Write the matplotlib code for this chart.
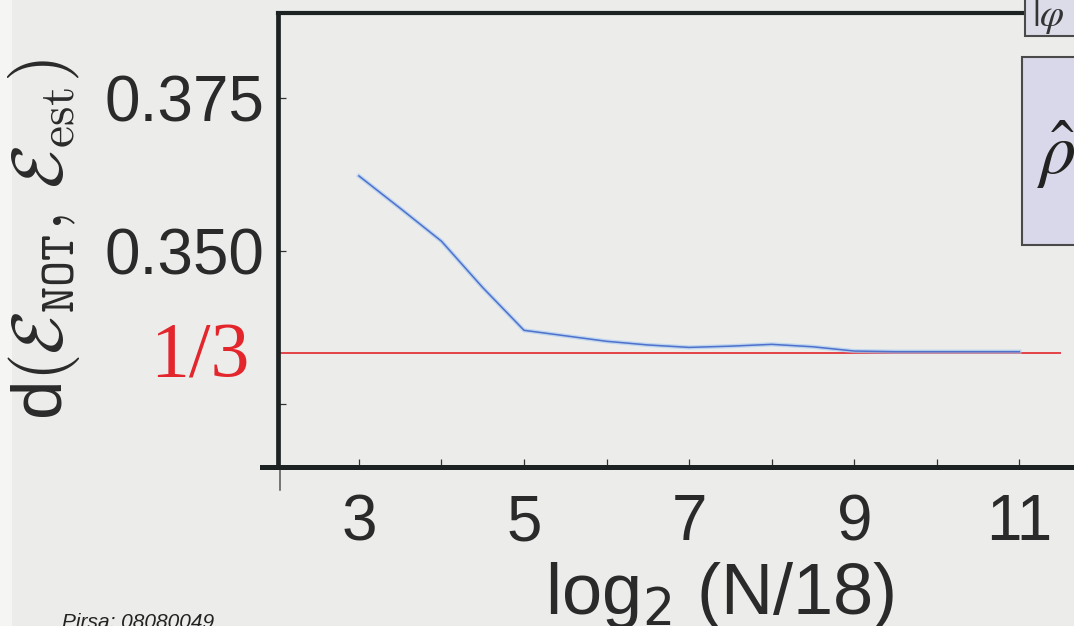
"""Distance between estimated and ideal NOT channel vs. log2(N/18)."""

import matplotlib

matplotlib.use("Agg")
import matplotlib.pyplot as plt
from matplotlib.lines import Line2D
from matplotlib.patches import Rectangle
from matplotlib.ticker import FixedFormatter, FixedLocator

# ----- data -----
log2_n = [3, 3.5, 4, 4.5, 5, 5.5, 6, 6.5, 7, 7.5, 8, 8.5, 9, 9.5, 10, 10.5, 11]
distance = [0.3623, 0.3570, 0.3516, 0.3440, 0.3370, 0.3361, 0.3352, 0.3346,
            0.3342, 0.3344, 0.3347, 0.3343, 0.3336, 0.3335, 0.3335, 0.3335,
            0.3335]
bound_value = 1 / 3
bound_span = [2.0, 11.5]

x_major = [3, 5, 7, 9, 11]
x_minor = [4, 6, 8, 10]
y_ticks = [0.325, 0.350, 0.375]
y_tick_labels = ["", "0.350", "0.375"]

BG = "#ecedea"
INK = "#1c2121"
W, H = 1074, 626


def fx(px):
    return px / W


def fy(py):
    return 1 - py / H


plt.rcParams["font.family"] = ["Liberation Sans", "DejaVu Sans"]

fig = plt.figure(figsize=(W / 100, H / 100), dpi=100, facecolor=BG)
fig.add_artist(Rectangle((0, 0), fx(12), 1, transform=fig.transFigure,
                         facecolor="#f5f6f4", edgecolor="none", zorder=-1))

ax = fig.add_axes([fx(278), fy(467), fx(824), fy(13) - fy(467)])
ax.set_facecolor(BG)
ax.set_xlim(2.02, 12.0)
ax.set_ylim(0.3146, 0.3890)

ax.plot(bound_span, [bound_value, bound_value], color="#e3262c", lw=1.2,
        zorder=2, solid_capstyle="butt")
ax.plot(log2_n, distance, color="#a9cbf2", lw=3.0, alpha=0.7, zorder=3)
ax.plot(log2_n, distance, color="#2a4fc0", lw=1.1, alpha=0.75, zorder=4)

for side in ("left", "top", "bottom"):
    ax.spines[side].set_color(INK)
ax.spines["left"].set_linewidth(3.4)
ax.spines["top"].set_linewidth(3.0)
ax.spines["bottom"].set_linewidth(3.6)
ax.spines["right"].set_visible(False)

ax.xaxis.set_major_locator(FixedLocator(x_major))
ax.xaxis.set_minor_locator(FixedLocator(x_minor))
ax.yaxis.set_major_locator(FixedLocator(y_ticks))
ax.yaxis.set_major_formatter(FixedFormatter(y_tick_labels))
ax.tick_params(axis="both", which="both", direction="in", length=6,
               width=0.9, color="#333333", labelcolor="#2a2a2a",
               labelsize=46)
ax.tick_params(axis="x", pad=19)
ax.tick_params(axis="y", pad=10)

# the 1/3 reference label
ax.text(-0.034, bound_value - 0.0009, "1/3",
        transform=ax.get_yaxis_transform(), ha="right", va="center",
        color="#e3262c", fontsize=56, family="Liberation Serif")

# axes run a little past the corner
ax.add_line(Line2D([-0.02, 0], [0, 0], transform=ax.transAxes, color=INK,
                   lw=3.6, clip_on=False))
ax.add_line(Line2D([0.003, 0.003], [0, -0.05], transform=ax.transAxes,
                   color="#555555", lw=1.1, clip_on=False))

ax.set_xlabel("log$_2$ (N/18)", fontsize=52, color="#2a2a2a")
ax.xaxis.set_label_coords((720 - 278) / 824, -0.205)

fig.text(fx(44), fy(240),
         r"d$(\mathcal{E}_{\mathtt{NOT}},\,\mathcal{E}_{\mathrm{est}})$",
         rotation=90, ha="center", va="center", fontsize=51,
         color="#2a2a2a", math_fontfamily="cm")

# slide boxes cut off on the right
fig.add_artist(Rectangle((fx(1025), fy(36)), fx(80), fy(-10) - fy(36),
                         transform=fig.transFigure, facecolor="#dcdce8",
                         edgecolor="#4a4a4a", lw=1.5, zorder=5))
fig.text(fx(1032), fy(16), r"$|\varphi$", fontsize=28, color="#333333",
         va="center", ha="left", zorder=6, math_fontfamily="stix")
fig.add_artist(Rectangle((fx(1022), fy(245)), fx(80), fy(57) - fy(245),
                         transform=fig.transFigure, facecolor="#d8d8ea",
                         edgecolor="#4a4a4a", lw=1.5, zorder=5))
fig.text(fx(1037), fy(155), r"$\hat{\rho}$", fontsize=52, color="#222222",
         va="center", ha="left", zorder=6, math_fontfamily="stix")

fig.text(fx(62), fy(628), "Pirsa: 08080049", fontsize=15, style="italic",
         color="#222222", va="baseline", ha="left")

fig.savefig("out.png", dpi=100, facecolor=BG)
